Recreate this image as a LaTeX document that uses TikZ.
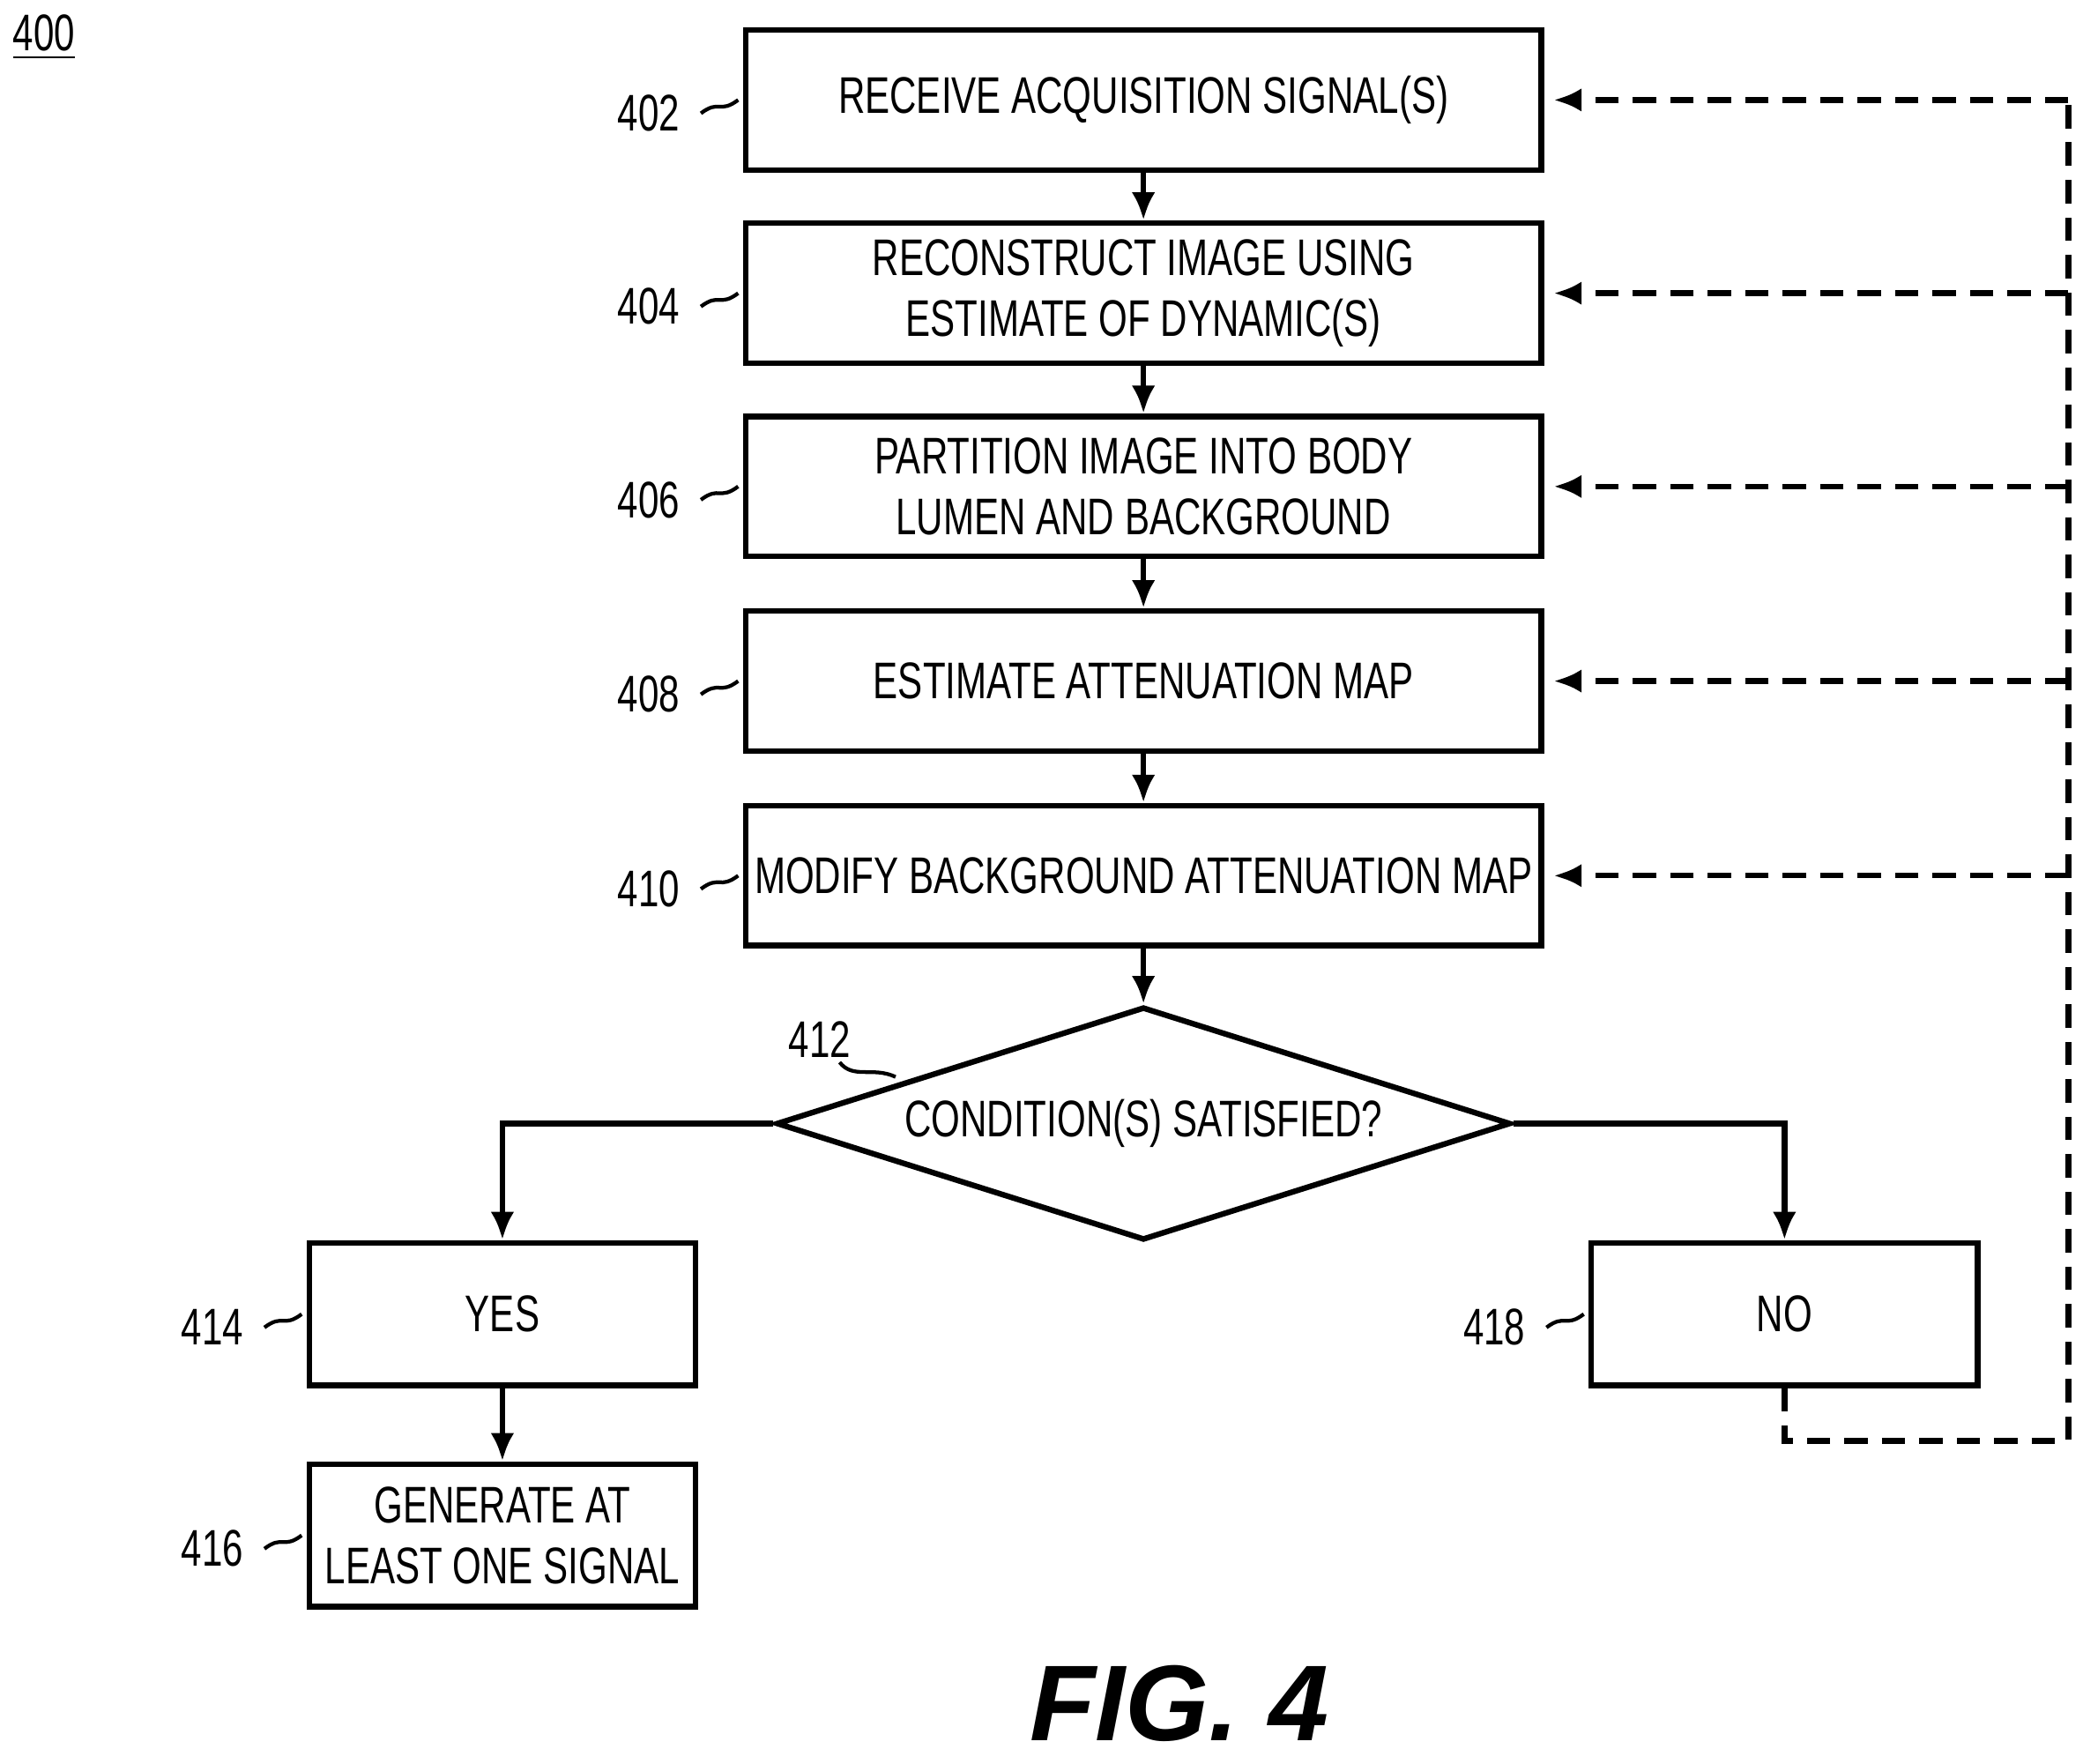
\documentclass[tikz,border=0pt]{standalone}
\usepackage{fontspec}
\setmainfont{Liberation Sans}[FakeStretch=0.72]
\newfontfamily\figfont{Liberation Sans}
\usetikzlibrary{shapes.geometric,arrows.meta}
\begin{document}
\begin{tikzpicture}[x=0.1mm,y=-0.1mm,
    box/.style={draw, line width=1.2pt, minimum width=59.7mm, minimum height=10.5mm, align=center, inner xsep=0.5mm, font=\fontsize{11}{13}\selectfont,
      append after command={[draw, line width=1.8pt] (\tikzlastnode.south west) ++(1pt,-1pt) -| ([xshift=1pt]\tikzlastnode.north east)}},
    small/.style={box, minimum width=29mm, minimum height=10.7mm},
    lbl/.style={font=\fontsize{11}{13}\selectfont, anchor=east},
    flow/.style={-{Latex[length=6pt,width=5pt]}, line width=1.2pt},
    back/.style={dashed, line width=1.2pt, dash pattern=on 5pt off 3pt}]
  \useasboundingbox (0,0) rectangle (1563,1323);

  % steps down the middle
  \node[box] (b402) at (858,75) {RECEIVE ACQUISITION SIGNAL(S)};
  \node[box] (b404) at (858,220) {RECONSTRUCT IMAGE USING\\ESTIMATE OF DYNAMIC(S)};
  \node[box] (b406) at (858,365) {PARTITION IMAGE INTO BODY\\LUMEN AND BACKGROUND};
  \node[box] (b408) at (858,511) {ESTIMATE ATTENUATION MAP};
  \node[box] (b410) at (858,657) {MODIFY BACKGROUND ATTENUATION MAP};
  \node[diamond, draw, line width=1.2pt, minimum width=55.1mm, minimum height=17.5mm, aspect=3.15, inner sep=0pt,
    font=\fontsize{11}{13}\selectfont] (d412) at (858,843) {CONDITION(S) SATISFIED?};
  \node[small] (b414) at (377,986) {YES};
  \node[small] (b416) at (377,1152) {GENERATE AT\\LEAST ONE SIGNAL};
  \node[small] (b418) at (1339,986) {NO};

  \draw[flow] (b402) -- (b404);
  \draw[flow] (b404) -- (b406);
  \draw[flow] (b406) -- (b408);
  \draw[flow] (b408) -- (b410);
  \draw[flow] (b410) -- (d412);
  \draw[flow] (d412.west) -| (b414.north);
  \draw[flow] (d412.east) -| (b418.north);
  \draw[flow] (b414) -- (b416);

  % dashed return path
  \coordinate (c1) at (1552,1081);
  \draw[back] (b418.south) |- (c1) -- (1552,75);
  \foreach \n in {402,404,406,408,410}
    \draw[back, -{Latex[length=6pt,width=5pt]}] (1552,0 |- b\n.east) -- ([xshift=2pt]b\n.east);

  % reference numerals
  \foreach \n/\p in {402/b402,404/b404,406/b406,408/b408,410/b410,414/b414,416/b416,418/b418} {
    \node[lbl] (l\n) at ([xshift=-3.5mm,yshift=-1mm]\p.west) {\n};
    \draw[line width=0.8pt] ([xshift=1pt]l\n.east) .. controls +(4pt,3pt) and +(-4pt,-3pt) .. ([xshift=-1pt]\p.west);
  }
  \node[font=\fontsize{11}{13}\selectfont] (l412) at (615,780) {412};
  \coordinate (t412) at (672,808);
  \draw[line width=0.8pt] (630,797) .. controls (640,810) and (655,800) .. (t412);
  \node[font=\fontsize{11}{13}\selectfont] (l400) at (33,28) {\underline{400}};

  \node[font=\figfont\fontsize{23}{25}\selectfont\bfseries\itshape] (fig) at (885,1278) {FIG. 4};
\end{tikzpicture}
\end{document}
